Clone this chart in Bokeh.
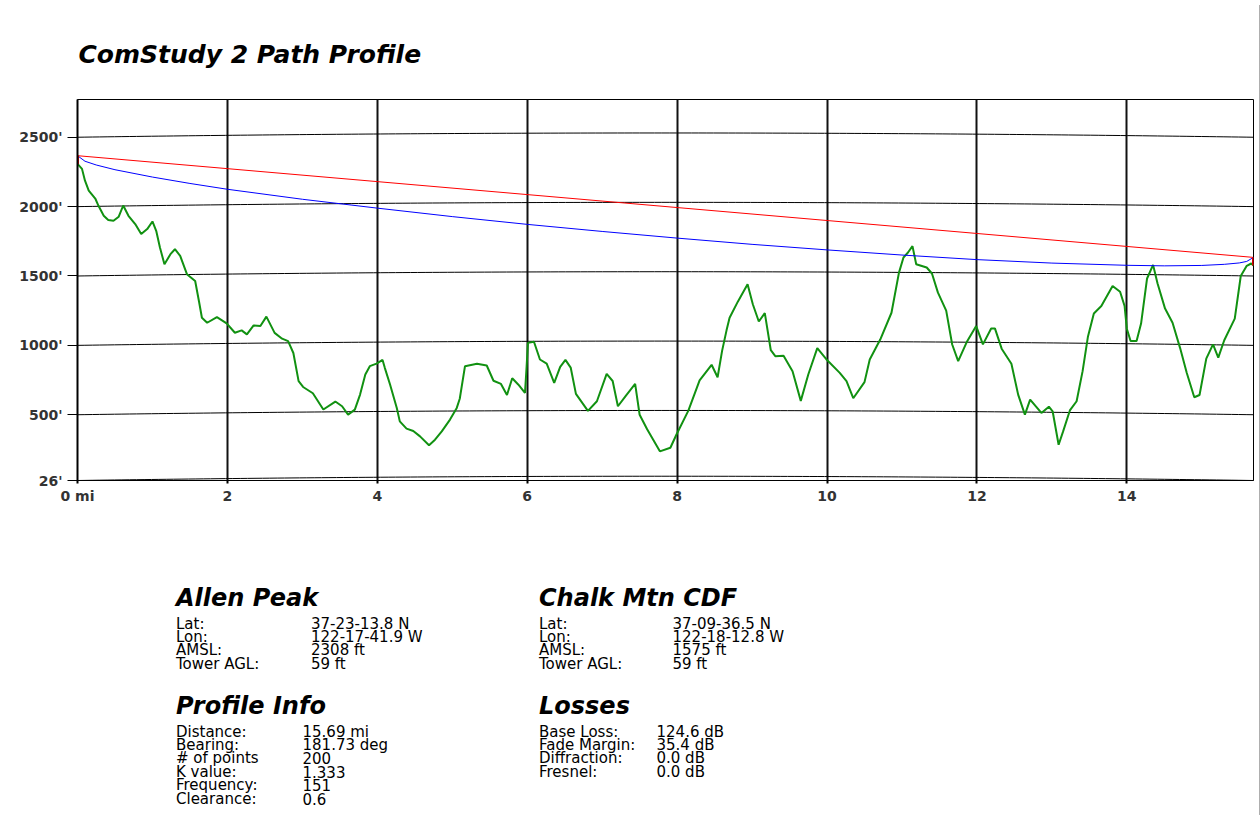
import numpy as np
from bokeh.plotting import figure
from bokeh.models import Range1d, FixedTicker, Div, ColumnDataSource
from bokeh.layouts import row, column
from bokeh.core.properties import value
from bokeh.embed import file_html
from bokeh.resources import INLINE

# ---------------- data ----------------
path_distance_mi = 15.69
k_value = 1.333

terrain_mi = [0.00, 0.06, 0.10, 0.15, 0.24, 0.28, 0.35, 0.41, 0.48, 0.55,
              0.61, 0.68, 0.77, 0.85, 0.93, 1.00, 1.05, 1.10, 1.16, 1.24,
              1.30, 1.37, 1.46, 1.57, 1.62, 1.66, 1.73, 1.86, 1.99, 2.10,
              2.19, 2.26, 2.35, 2.44, 2.52, 2.63, 2.73, 2.81, 2.88, 2.95,
              3.01, 3.14, 3.28, 3.44, 3.53, 3.61, 3.70, 3.77, 3.84, 3.90,
              3.99, 4.07, 4.10, 4.17, 4.26, 4.30, 4.39, 4.48, 4.57, 4.69,
              4.77, 4.86, 4.97, 5.06, 5.10, 5.17, 5.33, 5.46, 5.55, 5.65,
              5.73, 5.80, 5.88, 5.97, 5.99, 6.01, 6.09, 6.17, 6.26, 6.36,
              6.44, 6.51, 6.58, 6.65, 6.81, 6.93, 7.06, 7.14, 7.21, 7.32,
              7.44, 7.50, 7.60, 7.77, 7.91, 7.99, 8.15, 8.30, 8.46, 8.54,
              8.60, 8.66, 8.70, 8.81, 8.94, 9.01, 9.09, 9.17, 9.25, 9.31,
              9.42, 9.54, 9.65, 9.75, 9.87, 9.99, 10.17, 10.26, 10.35, 10.50,
              10.57, 10.71, 10.86, 10.96, 11.02, 11.08, 11.14, 11.19, 11.33, 11.40,
              11.48, 11.59, 11.67, 11.75, 11.87, 11.99, 12.08, 12.19, 12.24, 12.33,
              12.46, 12.55, 12.64, 12.71, 12.86, 12.96, 13.01, 13.09, 13.15, 13.24,
              13.33, 13.41, 13.48, 13.56, 13.66, 13.81, 13.91, 13.97, 14.00, 14.05,
              14.13, 14.19, 14.27, 14.35, 14.41, 14.51, 14.61, 14.71, 14.80, 14.90,
              14.97, 15.06, 15.15, 15.22, 15.30, 15.44, 15.52, 15.60, 15.66, 15.69]
terrain_ft = [2308, 2272, 2187, 2115, 2055, 2006, 1934, 1903, 1898, 1927,
              2008, 1934, 1874, 1802, 1838, 1893, 1826, 1705, 1585, 1657,
              1693, 1645, 1513, 1464, 1320, 1199, 1163, 1204, 1159, 1091,
              1108, 1079, 1144, 1139, 1207, 1090, 1048, 1030, 945, 742,
              700, 655, 538, 595, 561, 501, 537, 645, 790, 850,
              868, 895, 838, 718, 549, 452, 400, 383, 344, 280,
              320, 380, 465, 549, 615, 850, 867, 855, 745, 722,
              642, 763, 718, 657, 830, 1018, 1026, 898, 868, 729,
              845, 895, 840, 650, 528, 597, 794, 743, 561, 640,
              722, 500, 395, 236, 262, 356, 530, 748, 860, 770,
              960, 1110, 1199, 1315, 1440, 1296, 1172, 1232, 965, 922,
              926, 814, 600, 790, 980, 900, 802, 742, 619, 735,
              898, 1042, 1235, 1524, 1633, 1669, 1715, 1585, 1561, 1518,
              1380, 1250, 1006, 886, 1030, 1139, 1007, 1121, 1122, 976,
              868, 645, 501, 609, 513, 558, 525, 284, 380, 531,
              597, 814, 1060, 1230, 1284, 1428, 1386, 1284, 1120, 1031,
              1031, 1157, 1482, 1580, 1446, 1265, 1163, 982, 801, 626,
              642, 904, 1007, 912, 1037, 1193, 1500, 1573, 1590, 1575]

los_mi = [0.0, 15.69]
los_ft = [2367, 1634]

fresnel_mi = [0.0, 0.1, 0.25, 0.5, 1.0, 1.5, 2.0, 3.0, 4.0, 5.0, 6.0, 7.0, 8.0,
              9.0, 10.0, 11.0, 12.0, 13.0, 14.0, 14.5, 15.0, 15.3, 15.5, 15.6, 15.69]
fresnel_ft = [2367, 2327, 2300, 2266, 2213, 2167, 2125, 2053, 1989, 1928, 1872, 1821, 1773,
              1728, 1688, 1651, 1618, 1593, 1577, 1573, 1576, 1584, 1594, 1605, 1634]

tower_mi = [0.0, 15.69]
tower_base_ft = [2308, 1575]
tower_top_ft = [2367, 1634]

y_ticks = [26, 500, 1000, 1500, 2000, 2500]
y_tick_labels = ["26'", "500'", "1000'", "1500'", "2000'", "2500'"]
x_ticks = [0, 2, 4, 6, 8, 10, 12, 14]
x_tick_labels = ["0 mi", "2", "4", "6", "8", "10", "12", "14"]

title_text = "ComStudy 2 Path Profile"
site_a_name = "Allen Peak"
site_b_name = "Chalk Mtn CDF"
site_fields = ["Lat:", "Lon:", "AMSL:", "Tower AGL:"]
site_a_values = ["37-23-13.8 N", "122-17-41.9 W", "2308 ft", "59 ft"]
site_b_values = ["37-09-36.5 N", "122-18-12.8 W", "1575 ft", "59 ft"]
profile_title = "Profile Info"
profile_fields = ["Distance:", "Bearing:", "# of points", "K value:", "Frequency:", "Clearance:"]
profile_values = ["15.69 mi", "181.73 deg", "200", "1.333", "151", "0.6"]
loss_title = "Losses"
loss_fields = ["Base Loss:", "Fade Margin:", "Diffraction:", "Fresnel:"]
loss_values = ["124.6 dB", "35.4 dB", "0.0 dB", "0.0 dB"]

# ---------------- layout constants (pixels) ----------------
FONT = "DejaVu Sans"
LEFT, FRAME_W, RIGHT = 77, 1176, 1
TITLE_H = 78
PANEL_H = 290


def text_canvas(height):
    # frame aligned with the chart frame; x data units == page pixels
    f = figure(output_backend="svg", toolbar_location=None,
               frame_width=FRAME_W, frame_height=height,
               min_border_left=LEFT, min_border_right=RIGHT,
               min_border_top=0, min_border_bottom=0,
               x_range=Range1d(LEFT, LEFT + FRAME_W), y_range=Range1d(height, 0),
               x_axis_type=None, y_axis_type=None,
               background_fill_color="white", border_fill_color="white")
    f.outline_line_color = None
    f.grid.visible = False
    return f


def put_text(f, xs, ys, texts, size, style="normal"):
    src = ColumnDataSource(dict(x=xs, y=ys, t=texts))
    f.text(x="x", y="y", text="t", source=src, text_font=value(FONT),
           text_font_size=value(size), text_font_style=style, text_color="black",
           text_baseline="alphabetic", text_align="left")


# ---------------- title ----------------
top = text_canvas(TITLE_H)
put_text(top, [78], [54], [title_text], "25px", "bold italic")

# ---------------- main chart ----------------
p = figure(output_backend="svg", toolbar_location=None,
           frame_width=FRAME_W, frame_height=381,
           min_border_left=LEFT, min_border_right=RIGHT, min_border_top=21, min_border_bottom=40,
           x_range=Range1d(0, path_distance_mi), y_range=Range1d(26, 2772),
           background_fill_color="white", border_fill_color="white")
p.outline_line_color = "black"
p.outline_line_width = 1

# earth-curvature elevation gridlines (bent by the K factor)
gx = np.linspace(0, path_distance_mi, 160)
bulge = gx * (path_distance_mi - gx) / (1.5 * k_value)
p.multi_line(xs=[gx.tolist() for _ in y_ticks],
             ys=[(t + bulge).tolist() for t in y_ticks],
             line_color="black", line_width=1)

p.line(terrain_mi, terrain_ft, line_color="#119111", line_width=2)
p.line(fresnel_mi, fresnel_ft, line_color="#0000ff", line_width=1)
p.line(los_mi, los_ft, line_color="#ff0000", line_width=1)
p.segment(x0=tower_mi, y0=tower_base_ft, x1=tower_mi, y1=tower_top_ft,
          line_color="#e00000", line_width=3)

p.xaxis.ticker = FixedTicker(ticks=x_ticks)
p.xaxis.major_label_overrides = {t: l for t, l in zip(x_ticks, x_tick_labels)}
p.xaxis.major_tick_out = 3
p.xaxis.major_tick_in = 0
p.xaxis.major_tick_line_width = 2
p.xaxis.minor_tick_line_color = None
p.xaxis.axis_line_color = "black"
p.xaxis.major_label_standoff = 4

p.yaxis.ticker = FixedTicker(ticks=y_ticks)
p.yaxis.major_label_overrides = {t: l for t, l in zip(y_ticks, y_tick_labels)}
p.yaxis.major_tick_out = 10
p.yaxis.major_tick_in = 0
p.yaxis.major_tick_line_width = 1
p.yaxis.minor_tick_line_color = None
p.yaxis.axis_line_width = 2
p.yaxis.major_label_standoff = 5
p.yaxis.major_label_text_baseline = "alphabetic"

for ax in (p.xaxis[0], p.yaxis[0]):
    ax.major_label_text_font = FONT
    ax.major_label_text_font_size = "14px"
    ax.major_label_text_font_style = "bold"
    ax.major_label_text_color = "#333333"
    ax.major_tick_line_color = "black"

p.xgrid.ticker = FixedTicker(ticks=x_ticks)
p.xgrid.grid_line_color = "#111111"
p.xgrid.grid_line_width = 2
p.ygrid.grid_line_color = None

# ---------------- info panel ----------------
panel = text_canvas(PANEL_H)
col_a_lbl, col_a_val = 175.5, 310.5
col_b_lbl, col_b_val = 538.5, 672
prof_val, loss_val = 302, 656
head1_y = 77.5
rows1_y = [103.0, 116.4, 129.8, 143.2]
head2_y = 185.5
rows2_y = [211.0, 224.4, 237.8, 251.2, 264.6, 278.0]

put_text(panel, [col_a_lbl, col_b_lbl, col_a_lbl, col_b_lbl],
         [head1_y, head1_y, head2_y, head2_y],
         [site_a_name, site_b_name, profile_title, loss_title], "24px", "bold italic")

bx, by, bt = [], [], []
for yy, f, va, vb in zip(rows1_y, site_fields, site_a_values, site_b_values):
    bx += [col_a_lbl, col_a_val, col_b_lbl, col_b_val]
    by += [yy] * 4
    bt += [f, va, f, vb]
for yy, f, v in zip(rows2_y, profile_fields, profile_values):
    bx += [col_a_lbl, prof_val]
    by += [yy] * 2
    bt += [f, v]
for yy, f, v in zip(rows2_y, loss_fields, loss_values):
    bx += [col_b_lbl, loss_val]
    by += [yy] * 2
    bt += [f, v]
put_text(panel, bx, by, bt, "15px")

shadow = Div(width=5, height=TITLE_H + 21 + 381 + 40 + PANEL_H,
             styles={"background": "linear-gradient(to right, #a8a8a8, #e8e8e8)"})

layout = row(column(top, p, panel), shadow)
open("out.html", "w").write(file_html(layout, INLINE))
